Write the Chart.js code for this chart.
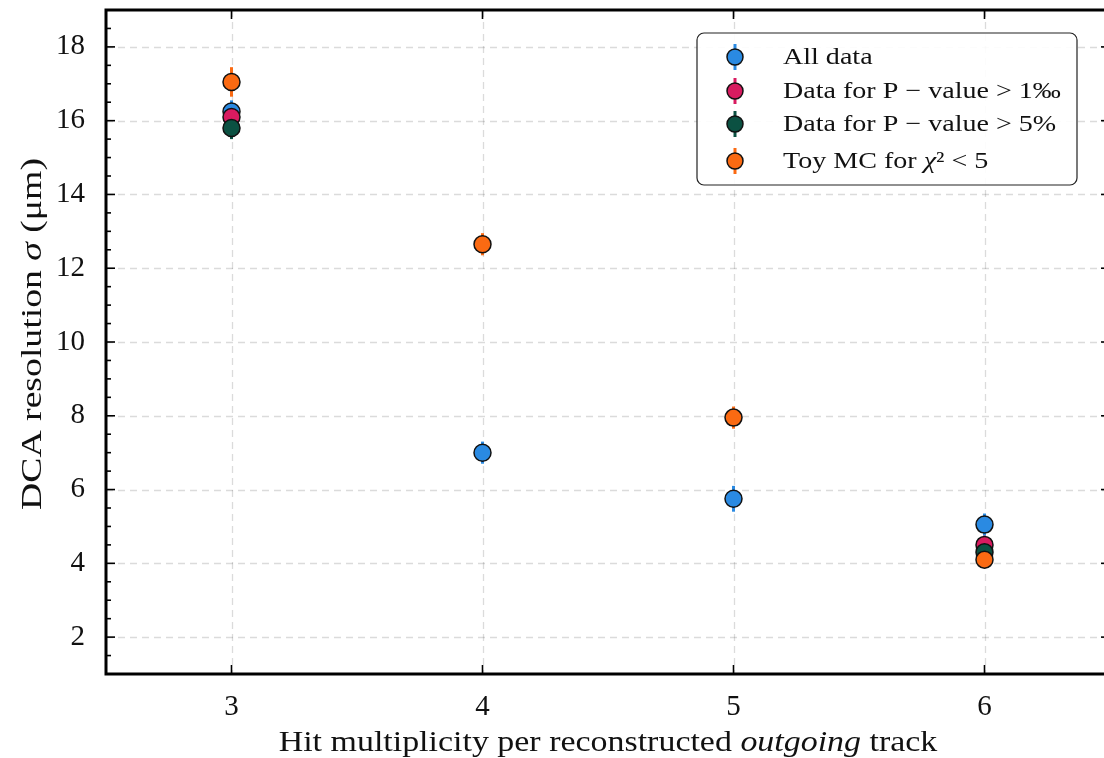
<!DOCTYPE html>
<html>
<head>
<meta charset="utf-8">
<script src="https://cdn.jsdelivr.net/npm/chart.js@4.4.1/dist/chart.umd.min.js"></script>
<style>
  html, body { margin: 0; padding: 0; background: #fff; overflow: hidden; }
  #wrap { width: 1120px; height: 758px; }
</style>
</head>
<body>
<div id="wrap"><canvas id="dca" width="1120" height="758"></canvas></div>
<script>
// hit multiplicity per track
const hits = [3, 4, 5, 6];

// DCA resolution in um, with errors (null = not measured)
const allData = [16.25, 7.0, 5.75, 5.05];
const allDataErr = [0.3, 0.3, 0.35, 0.3];
const pval1 = [16.1, null, null, 4.5];
const pval1Err = [0.3, null, null, 0.25];
const pval5 = [15.8, null, null, 4.3];
const pval5Err = [0.3, null, null, 0.25];
const toyMC = [17.05, 12.65, 7.95, 4.1];
const toyMCErr = [0.4, 0.3, 0.3, 0.2];

const xTicks = [3, 4, 5, 6];
const yTicks = [2, 4, 6, 8, 10, 12, 14, 16, 18];

const labels = ['All data', 'Data for P \u2212 value > 1\u2030', 'Data for P \u2212 value > 5%', 'Toy MC for \u03c7\u00b2 < 5'];
// same labels split into runs of [text, font style] for drawing
const labelRuns = [
    [['All data', '']],
    [['Data for P \u2212 value > 1\u2030', '']],
    [['Data for P \u2212 value > 5%', '']],
    [['Toy MC for ', ''], ['\u03c7', 'italic '], ['\u00b2 < 5', '']]
];
const colors = ['#2a8ae2', '#d81b60', '#0b5142', '#fb6a12'];

const serif = "'Liberation Serif', 'DejaVu Serif', serif";

function pts(vals, errs) {
    return hits.map((x, i) => vals[i] == null ? null : { x: x, y: vals[i], err: errs[i] }).filter(p => p);
}

const series = [
    pts(allData, allDataErr),
    pts(pval1, pval1Err),
    pts(pval5, pval5Err),
    pts(toyMC, toyMCErr)
];

// draws runs of text, stretched sideways a bit to look like the LaTeX font
function drawRuns(ctx, runs, x, y, size, stretch, align) {
    let w = 0;
    runs.forEach(r => { ctx.font = r[1] + size + 'px ' + serif; w += ctx.measureText(r[0]).width; });
    ctx.save();
    ctx.translate(x, y);
    ctx.scale(stretch, 1);
    let tx = align === 'center' ? -w / 2 : 0;
    ctx.textAlign = 'left';
    runs.forEach(r => {
        ctx.font = r[1] + size + 'px ' + serif;
        ctx.fillText(r[0], tx, 0);
        tx += ctx.measureText(r[0]).width;
    });
    ctx.restore();
}

// error bars, grid, frame, inward ticks, legend and titles
const decor = {
    id: 'decor',
    beforeDatasetsDraw(chart) {
        const { ctx, chartArea: a, scales: { x, y } } = chart;
        ctx.save();
        ctx.strokeStyle = 'rgba(0,0,0,0.14)';
        ctx.lineWidth = 1.3;
        ctx.setLineDash([7, 5]);
        xTicks.forEach(v => {
            const px = Math.round(x.getPixelForValue(v)) + 0.5;
            ctx.beginPath(); ctx.moveTo(px, a.top); ctx.lineTo(px, a.bottom); ctx.stroke();
        });
        yTicks.forEach(v => {
            const py = Math.round(y.getPixelForValue(v)) + 0.5;
            ctx.beginPath(); ctx.moveTo(a.left, py); ctx.lineTo(a.right, py); ctx.stroke();
        });
        ctx.setLineDash([]);
        // error bars
        ctx.lineWidth = 3;
        series.forEach((s, k) => {
            ctx.strokeStyle = colors[k];
            s.forEach(p => {
                const px = x.getPixelForValue(p.x);
                ctx.beginPath();
                ctx.moveTo(px, y.getPixelForValue(p.y - p.err));
                ctx.lineTo(px, y.getPixelForValue(p.y + p.err));
                ctx.stroke();
            });
        });
        ctx.restore();
    },
    afterDatasetsDraw(chart) {
        const { ctx, chartArea: a, scales: { x, y } } = chart;
        ctx.save();
        ctx.strokeStyle = '#000';
        // inward ticks
        ctx.lineWidth = 1.6;
        xTicks.forEach(v => {
            const px = x.getPixelForValue(v);
            ctx.beginPath(); ctx.moveTo(px, a.bottom); ctx.lineTo(px, a.bottom - 9); ctx.stroke();
            ctx.beginPath(); ctx.moveTo(px, a.top); ctx.lineTo(px, a.top + 9); ctx.stroke();
        });
        for (let v = 1.5; v < 19; v += 0.5) {
            const py = y.getPixelForValue(v);
            const len = yTicks.includes(v) ? 9 : 5;
            ctx.beginPath(); ctx.moveTo(a.left, py); ctx.lineTo(a.left + len, py); ctx.stroke();
            ctx.beginPath(); ctx.moveTo(a.right, py); ctx.lineTo(a.right - len, py); ctx.stroke();
        }
        // frame
        ctx.lineWidth = 3;
        ctx.strokeRect(a.left, a.top, a.right - a.left, a.bottom - a.top);

        // legend box
        const bx = 697, by = 33, bw = 380, bh = 152;
        ctx.beginPath();
        ctx.roundRect(bx, by, bw, bh, 7);
        ctx.fillStyle = 'rgba(255,255,255,0.9)';
        ctx.fill();
        ctx.lineWidth = 1.2;
        ctx.strokeStyle = '#222';
        ctx.stroke();
        const rows = [57, 91, 124, 161];
        ctx.textBaseline = 'middle';
        labelRuns.forEach((runs, k) => {
            const cy = rows[k];
            ctx.strokeStyle = colors[k];
            ctx.lineWidth = 3;
            ctx.beginPath(); ctx.moveTo(735, cy - 13); ctx.lineTo(735, cy + 13); ctx.stroke();
            ctx.beginPath(); ctx.arc(735, cy, 8, 0, Math.PI * 2);
            ctx.fillStyle = colors[k]; ctx.fill();
            ctx.lineWidth = 1.5; ctx.strokeStyle = '#111'; ctx.stroke();
            ctx.fillStyle = '#111';
            drawRuns(ctx, runs, 783, cy + 1, 23, 1.22, 'left');
        });
        ctx.restore();
    },
    afterDraw(chart) {
        const { ctx, chartArea: a } = chart;
        ctx.save();
        ctx.fillStyle = '#111';
        ctx.textBaseline = 'alphabetic';
        drawRuns(ctx, [['Hit multiplicity per reconstructed ', ''], ['outgoing', 'italic '], [' track', '']],
            (a.left + a.right) / 2, 751, 29, 1.17, 'center');
        ctx.translate(41, 334);
        ctx.rotate(-Math.PI / 2);
        drawRuns(ctx, [['DCA resolution ', ''], ['\u03c3', 'italic '], [' (\u03bcm)', '']],
            0, 0, 29, 1.3, 'center');
        ctx.restore();
    }
};

new Chart(document.getElementById('dca'), {
    type: 'scatter',
    data: {
        datasets: series.map((s, k) => ({
            label: labels[k],
            data: s,
            backgroundColor: colors[k],
            borderColor: '#111',
            borderWidth: 1.5,
            pointRadius: 8.5,
            order: 4 - k
        }))
    },
    options: {
        responsive: false,
        animation: false,
        devicePixelRatio: 1,
        layout: { padding: { top: 7, right: 8, left: 0, bottom: 0 } },
        plugins: { legend: { display: false }, tooltip: { enabled: false } },
        scales: {
            x: {
                type: 'linear', min: 2.5, max: 6.5,
                afterBuildTicks: s => { s.ticks = xTicks.map(v => ({ value: v })); },
                afterFit: s => { s.height = 84; s.paddingLeft = 0; s.paddingRight = 0; },
                grid: { display: false },
                border: { display: false },
                ticks: { color: '#111', padding: 8, font: { family: serif, size: 29 } }
            },
            y: {
                type: 'linear', min: 1, max: 19,
                afterBuildTicks: s => { s.ticks = yTicks.map(v => ({ value: v })); },
                afterFit: s => { s.width = 106; s.paddingTop = 0; s.paddingBottom = 0; },
                grid: { display: false },
                border: { display: false },
                ticks: { color: '#111', padding: 13, font: { family: serif, size: 29 } }
            }
        }
    },
    plugins: [decor]
});
</script>
</body>
</html>
